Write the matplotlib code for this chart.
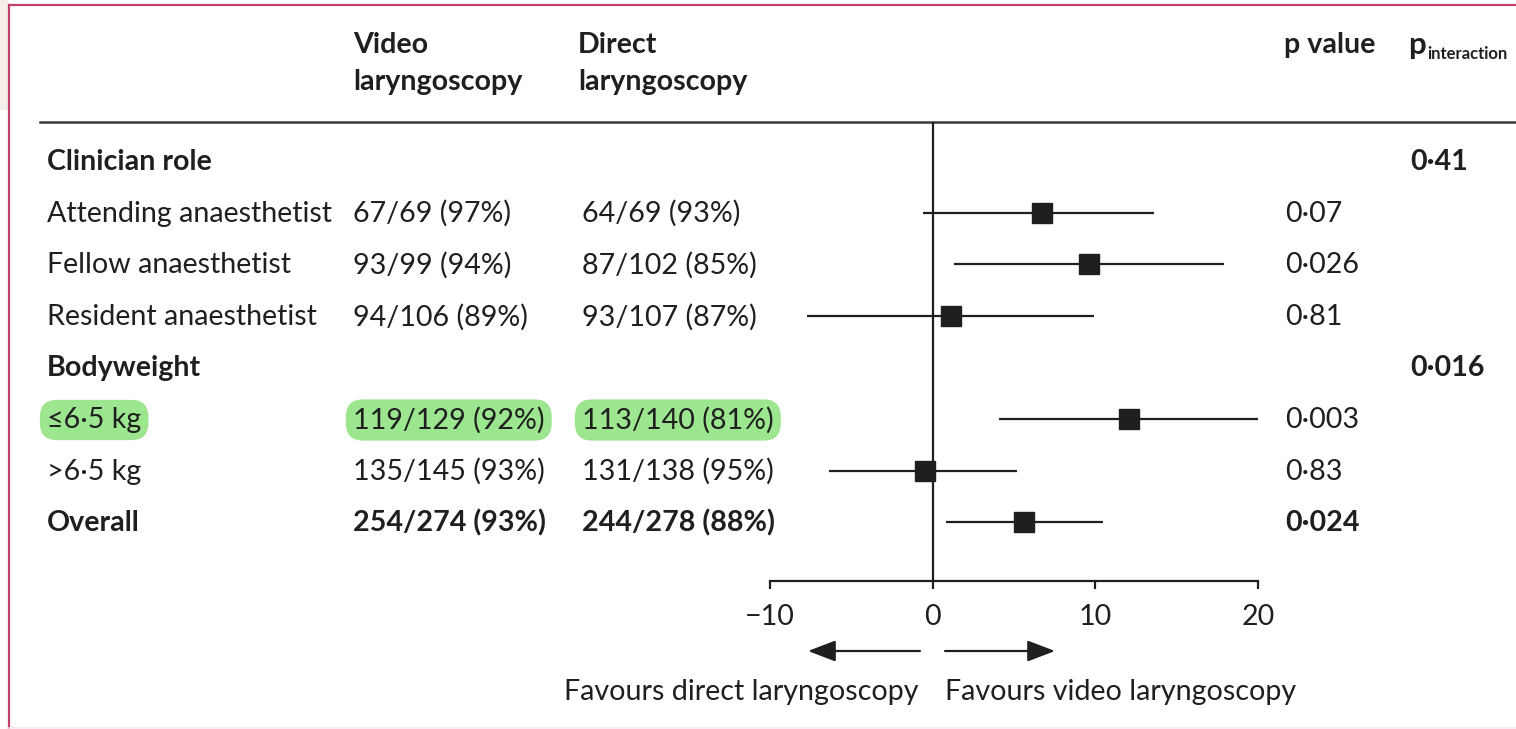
import numpy as np
import matplotlib.pyplot as plt
from matplotlib.patches import Rectangle

W, H = 1516, 729

# subgroup rows, top to bottom
rows = ["Clinician role", "Attending anaesthetist", "Fellow anaesthetist", "Resident anaesthetist",
        "Bodyweight", "≤6·5 kg", ">6·5 kg", "Overall"]
bold_rows = [0, 4, 7]
video = ["", "67/69 (97%)", "93/99 (94%)", "94/106 (89%)",
         "", "119/129 (92%)", "135/145 (93%)", "254/274 (93%)"]
direct = ["", "64/69 (93%)", "87/102 (85%)", "93/107 (87%)",
          "", "113/140 (81%)", "131/138 (95%)", "244/278 (88%)"]
p_value = ["", "0·07", "0·026", "0·81", "", "0·003", "0·83", "0·024"]
p_interaction = ["0·41", "", "", "", "0·016", "", "", ""]

# risk difference (percentage points) with 95% CI
diff = [np.nan, 6.7, 9.6, 1.1, np.nan, 12.1, -0.5, 5.6]
ci_low = [np.nan, -0.6, 1.3, -7.7, np.nan, 4.1, -6.4, 0.8]
ci_high = [np.nan, 13.6, 17.9, 9.9, np.nan, 20.1, 5.2, 10.5]
highlighted = [5]
ticks = [-10, 0, 10, 20]

plt.rcParams['font.family'] = ['Lato', 'DejaVu Sans']
ink = '#1f1f1f'
fs = 20.6

fig = plt.figure(figsize=(W / 100, H / 100), dpi=100)
fig.patch.set_facecolor('white')

# pixel-space axes for the table part
ax = fig.add_axes([0, 0, 1, 1])
ax.set_xlim(0, W)
ax.set_ylim(H, 0)
ax.axis('off')

# page frame
ax.add_patch(Rectangle((0, 0), 8, 110, color='#f4efe9', lw=0))
ax.plot([9, 9], [5, H], color='#c2416b', lw=1.6)
ax.plot([9, W], [5, 5], color='#c2416b', lw=1.6)
ax.plot([9, W], [H - 1, H - 1], color='#fbe6f3', lw=1.2)

# column headings
for x0, word in [(353, "Video"), (578, "Direct")]:
    ax.text(x0, 45, word, fontsize=fs, fontweight='bold', color=ink, va='center', ha='left')
    ax.text(x0, 82, "laryngoscopy", fontsize=fs, fontweight='bold', color=ink, va='center', ha='left')
ax.text(1284, 45, "p value", fontsize=fs, fontweight='bold', color=ink, va='center', ha='left')
ax.text(1408, 45, "p", fontsize=fs + 2, fontweight='bold', color=ink, va='center', ha='left')
ax.text(1427, 54, "interaction", fontsize=12, fontweight='bold', color=ink, va='center', ha='left')
ax.plot([40, W], [122, 122], color='#3a3a3a', lw=1.8)

row_y = 161 + 51.6 * np.arange(len(rows))
hl = dict(boxstyle='round,pad=0.25,rounding_size=0.6', fc='#9be68e', ec='none')

for i, y in enumerate(row_y):
    w = 'bold' if i in bold_rows else 'normal'
    box = hl if i in highlighted else None
    ax.text(47, y + 1, rows[i], fontsize=fs, fontweight=w, color=ink, va='center', ha='left', bbox=box)
    ax.text(353, y + 1, video[i], fontsize=fs, fontweight=w, color=ink, va='center', ha='left', bbox=box)
    ax.text(582, y + 1, direct[i], fontsize=fs, fontweight=w, color=ink, va='center', ha='left', bbox=box)
    ax.text(1285, y + 1, p_value[i], fontsize=fs, fontweight=w, color=ink, va='center', ha='left')
    ax.text(1410, y + 1, p_interaction[i], fontsize=fs, fontweight='bold', color=ink, va='center', ha='left')

# direction arrows and captions
arrow = dict(arrowstyle='-|>,head_length=1.7,head_width=0.65', color=ink, lw=1.6, shrinkA=0, shrinkB=0)
ax.annotate("", xy=(808, 651), xytext=(920, 651), arrowprops=arrow)
ax.annotate("", xy=(1055, 651), xytext=(945, 651), arrowprops=arrow)
ax.text(918, 692, "Favours direct laryngoscopy", fontsize=fs, color=ink, va='center', ha='right')
ax.text(945, 692, "Favours video laryngoscopy", fontsize=fs, color=ink, va='center', ha='left')

# forest plot axes: x=-10 at 770 px, x=20 at 1258 px
top, bottom = 122, 581
fx = fig.add_axes([770 / W, (H - bottom) / H, 488 / W, (bottom - top) / H])
fx.set_xlim(-10, 20)
fx.set_ylim(bottom, top)
fx.patch.set_alpha(0)
for s in ['top', 'left', 'right']:
    fx.spines[s].set_visible(False)
fx.spines['bottom'].set_linewidth(1.6)
fx.spines['bottom'].set_color(ink)
fx.set_yticks([])
fx.set_xticks(ticks)
fx.tick_params(axis='x', length=5.5, width=1.6, color=ink, labelsize=fs, labelcolor=ink, pad=11)
fx.axvline(0, color=ink, lw=1.6)

fx.hlines(row_y, ci_low, ci_high, color=ink, lw=1.6)
fx.plot(diff, row_y, ls='none', marker='s', ms=15, color=ink)

fig.savefig('out.png', dpi=100)
